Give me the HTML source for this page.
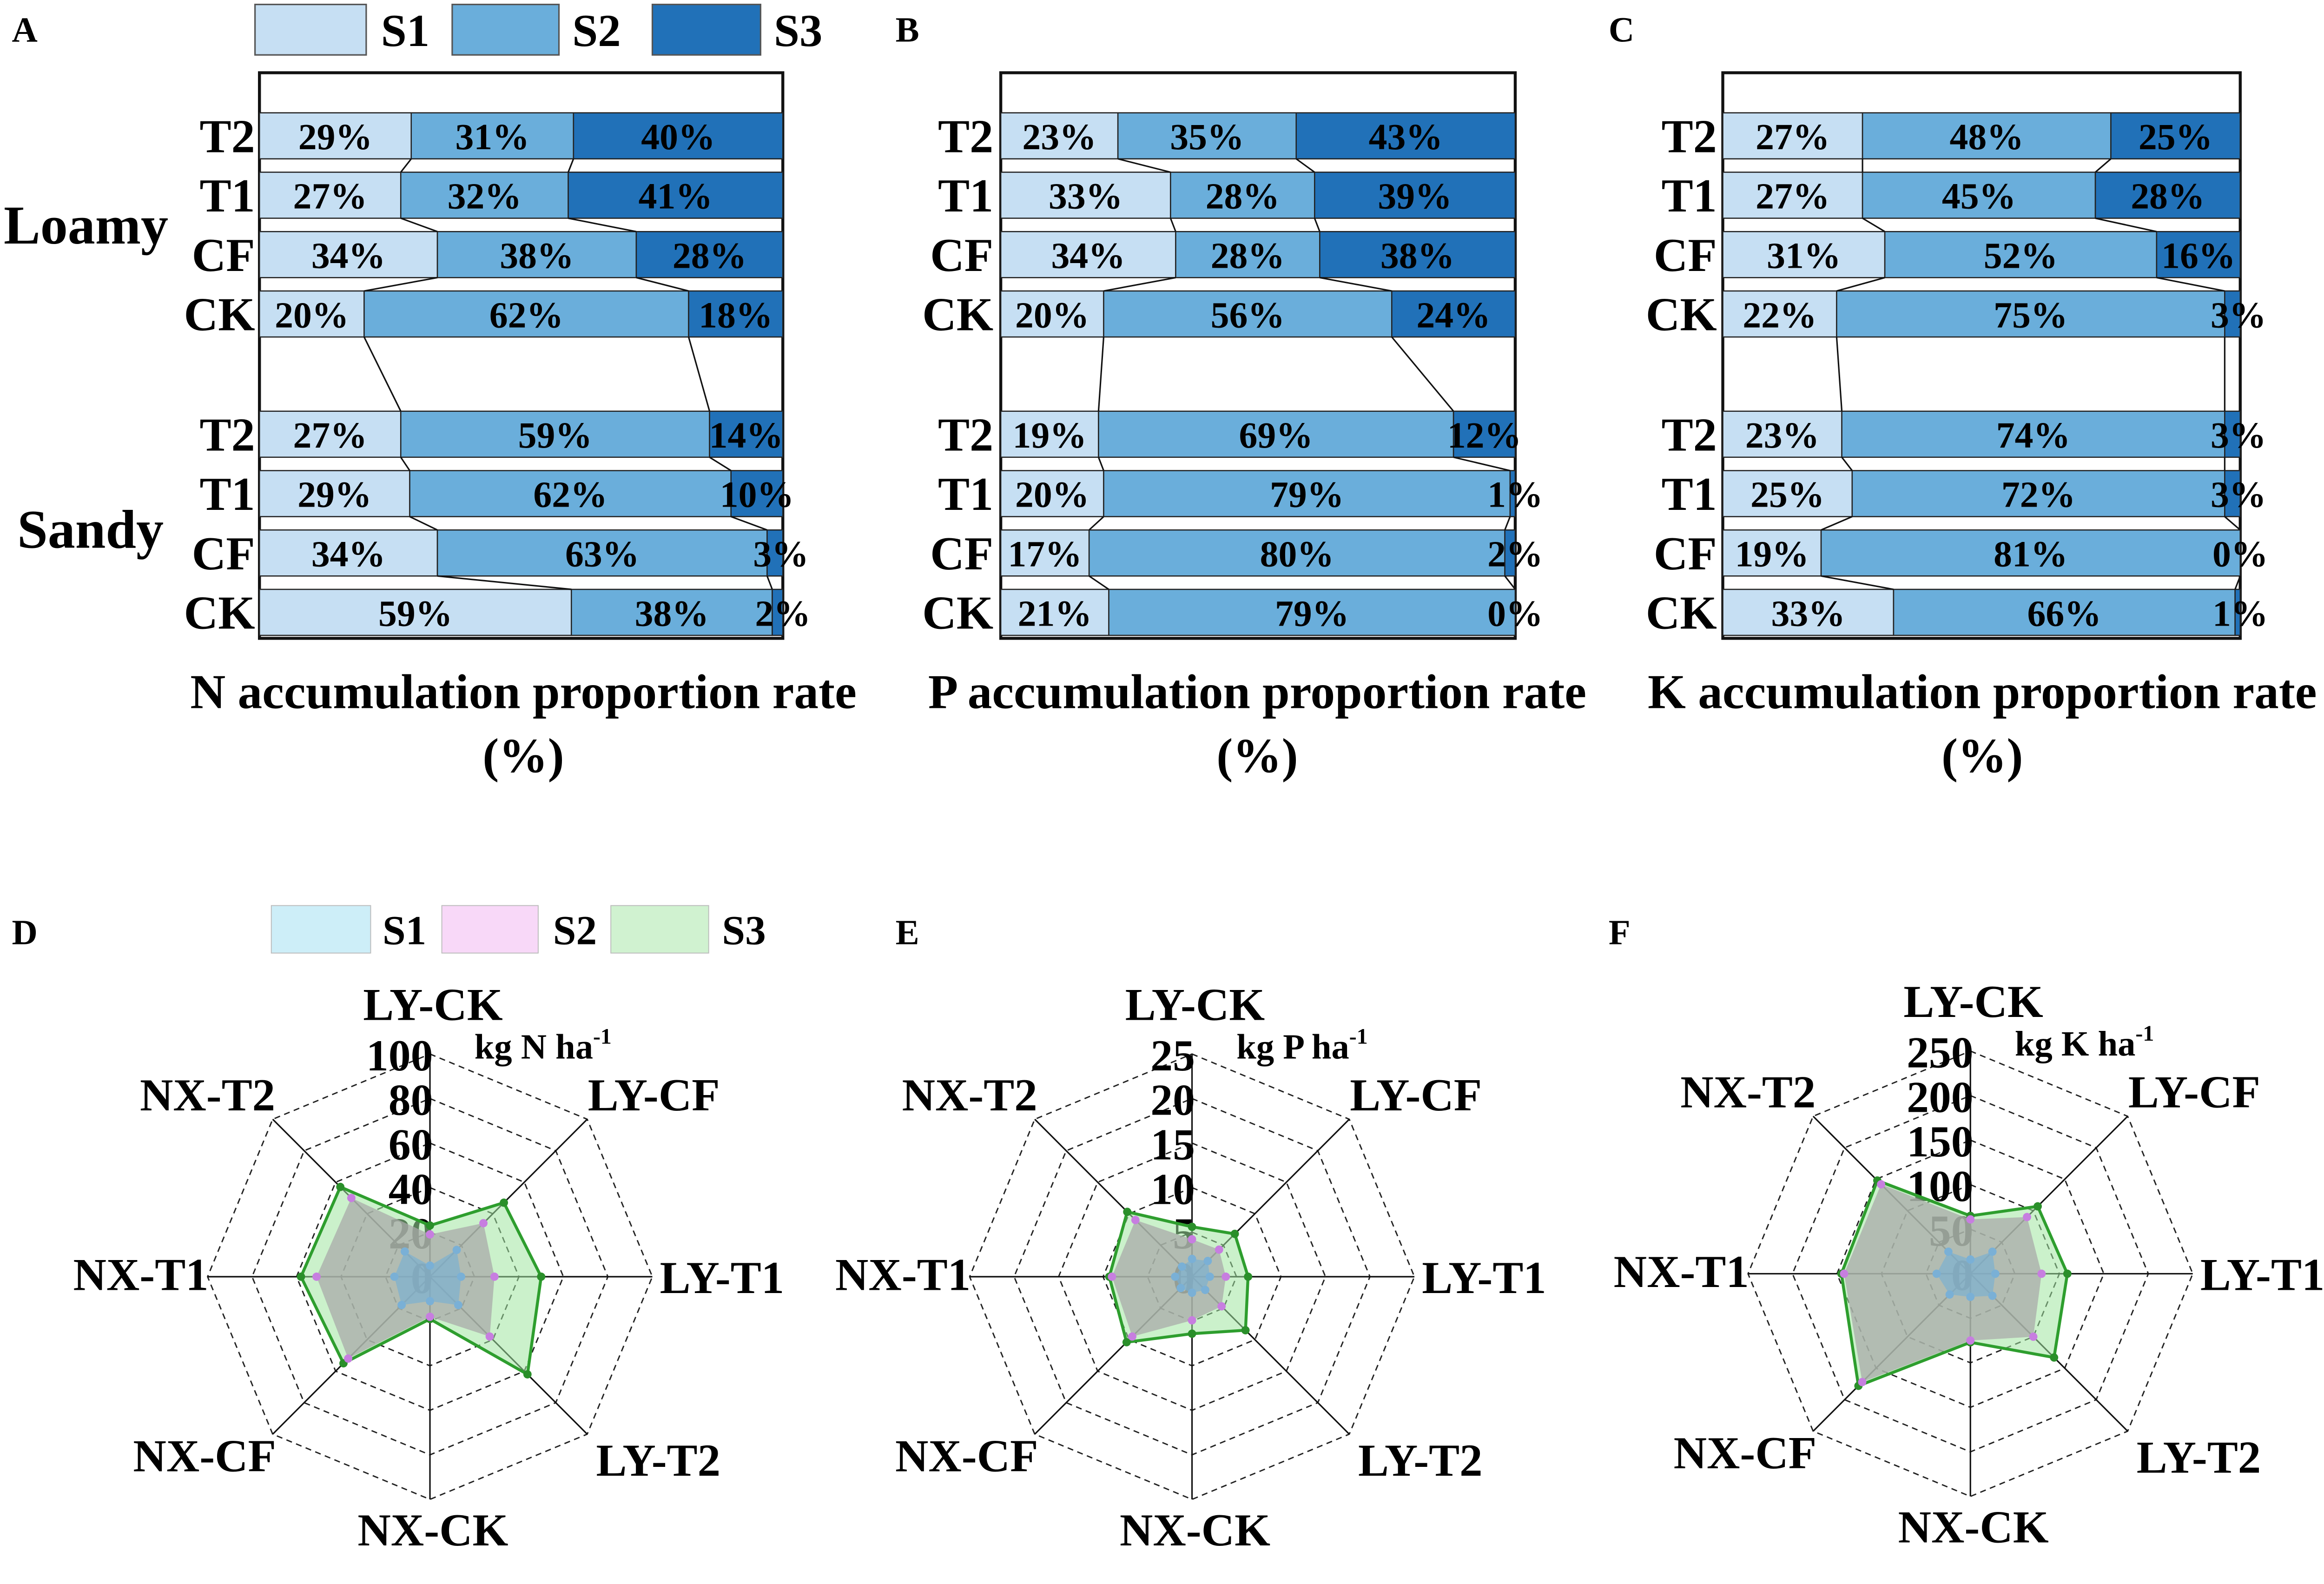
<!DOCTYPE html>
<html><head><meta charset="utf-8"><style>
html,body{margin:0;padding:0;background:#fff;overflow:hidden;}
svg{display:block;}
text{font-family:"Liberation Serif",serif;font-weight:bold;fill:#000;}
</style></head><body>
<svg id="fig" xmlns="http://www.w3.org/2000/svg" width="5126" height="3408" viewBox="0 0 1607 1067" preserveAspectRatio="none">
<rect x="0" y="0" width="1607" height="1067" fill="#fff"/>
<text x="8" y="28" font-size="24" font-family="Liberation Sans">A</text>
<text x="604" y="28" font-size="24" font-family="Liberation Sans">B</text>
<text x="1085" y="28" font-size="24" font-family="Liberation Sans">C</text>
<text x="8" y="636" font-size="24" font-family="Liberation Sans">D</text>
<text x="604" y="636" font-size="24" font-family="Liberation Sans">E</text>
<text x="1085" y="636" font-size="24" font-family="Liberation Sans">F</text>
<g>
<rect x="172" y="3" width="75" height="34" fill="#c6dff3" stroke="#555" stroke-width="1"/>
<text x="257" y="31" font-size="31">S1</text>
<rect x="305" y="3" width="72" height="34" fill="#6aaedb" stroke="#555" stroke-width="1"/>
<text x="386" y="31" font-size="31">S2</text>
<rect x="440" y="3" width="73" height="34" fill="#2171b8" stroke="#555" stroke-width="1"/>
<text x="522" y="31" font-size="31">S3</text>
</g>
<text x="58" y="164" font-size="37" text-anchor="middle">Loamy</text>
<text x="61" y="369" font-size="37" text-anchor="middle">Sandy</text>
<g>
<rect x="183" y="610" width="67" height="32" fill="#cdeef8" stroke="#bbb" stroke-width="0.6"/>
<text x="258" y="636" font-size="28">S1</text>
<rect x="298" y="610" width="65" height="32" fill="#f8d8f8" stroke="#bbb" stroke-width="0.6"/>
<text x="373" y="636" font-size="28">S2</text>
<rect x="412" y="610" width="66" height="32" fill="#d0f2d0" stroke="#bbb" stroke-width="0.6"/>
<text x="487" y="636" font-size="28">S3</text>
</g>
<g id="bars"></g>
<g id="radars"></g>
</svg>
<script>
// ---------- stacked bar data ----------
const rowLabels = ["T2","T1","CF","CK","T2","T1","CF","CK"];
const nS1 = [29,27,34,20,27,29,34,59];
const nS2 = [31,32,38,62,59,62,63,38];
const nS3 = [40,41,28,18,14,10,3,2];
const pS1 = [23,33,34,20,19,20,17,21];
const pS2 = [35,28,28,56,69,79,80,79];
const pS3 = [43,39,38,24,12,1,2,0];
const kS1 = [27,27,31,22,23,25,19,33];
const kS2 = [48,45,52,75,74,72,81,66];
const kS3 = [25,28,16,3,3,3,0,1];
const barTitles = ["N accumulation proportion rate","P accumulation proportion rate","K accumulation proportion rate"];

// ---------- radar data ----------
const radarCats = ["LY-CK","LY-CF","LY-T1","LY-T2","NX-CK","NX-CF","NX-T1","NX-T2"];
const radNS1 = [5,17,14,18,11,18,16,16];
const radNS2 = [19,34,29,38,18,52,51,50];
const radNS3 = [23,47,50,62,19,55,58,57];
const radPS1 = [2,2.5,2,2.1,1.8,1.8,1.9,1.6];
const radPS2 = [4.2,4.3,3.8,4.7,4.9,9.5,9,9];
const radPS3 = [5.6,6.8,6.3,8.5,6.4,10.4,9.3,10.3];
const radKS1 = [16,35,28,35,26,33,38,35];
const radKS2 = [61,90,80,100,75,172,142,142];
const radKS3 = [65,107,109,133,77,178,145,148];
const radNTicks = ["0","20","40","60","80","100"];
const radPTicks = ["0","5","10","15","20","25"];
const radKTicks = ["0","50","100","150","200","250"];

const NS="http://www.w3.org/2000/svg";
function mk(tag, attrs, parent){const e=document.createElementNS(NS,tag);for(const k in attrs)e.setAttribute(k,attrs[k]);parent.appendChild(e);return e;}

const barsG=document.getElementById('bars');
const panels=[
 {x0:175,x1:528,lab:172,cx:353,d:[nS1,nS2,nS3],n:'n'},
 {x0:675,x1:1022,lab:670,cx:848,d:[pS1,pS2,pS3],n:'p'},
 {x0:1162,x1:1511,lab:1158,cx:1337,d:[kS1,kS2,kS3],n:'k'}];
const rowY=[76,116,156,196,277,317,357,397];
const barH=31;
const segCol=["#c6dff3","#6aaedb","#2171b8"];
panels.forEach((p,pi)=>{
  const g=mk('g',{},barsG);
  
  
  const box=mk('rect',{x:p.x0,y:49,width:p.x1-p.x0,height:381,fill:'none',stroke:'#111','stroke-width':2},g);
  
  
  const W=p.x1-p.x0;
  const bounds=[];
  for(let r=0;r<8;r++){
    const vals=[p.d[0][r],p.d[1][r],p.d[2][r]];
    const tot=vals[0]+vals[1]+vals[2];
    let acc=0; const b=[];
    const y=rowY[r];
    vals.forEach((v,si)=>{
      const xa=p.x0+W*acc/tot; acc+=v; const xb=p.x0+W*acc/tot;
      b.push(xb);
      const seg=mk('rect',{x:xa,y:y,width:Math.max(xb-xa,0),height:barH,fill:segCol[si],stroke:'#222','stroke-width':0.8},g);
      
      
      let tx=(xa+xb)/2;
      if(si===2 && xb-xa<30) tx=Math.min(tx+4,p.x1);
      const t=mk('text',{x:tx,y:y+barH/2+9,'font-size':25,'text-anchor':'middle'},g);
      t.textContent=v+'%';
      
      
    });
    bounds.push(b);
    const rl=mk('text',{x:p.lab,y:y+barH/2+11,'font-size':32,'text-anchor':'end'},g);
    rl.textContent=rowLabels[r];
    
    
  }
  for(let r=0;r<7;r++){
    for(let k=0;k<2;k++){
      const ln=mk('line',{x1:bounds[r][k],y1:rowY[r]+barH,x2:bounds[r+1][k],y2:rowY[r+1],stroke:'#111','stroke-width':1},g);
      
      
    }
  }
  const t1=mk('text',{x:p.cx,y:477,'font-size':33,'text-anchor':'middle'},g);
  t1.textContent=barTitles[pi];
  
  
  const t2=mk('text',{x:p.cx,y:520,'font-size':33,'text-anchor':'middle'},g);
  t2.textContent='(%)';
  
  
});

const radG=document.getElementById('radars');
const radars=[
 {cx:290,cy:860,R:150,max:100,ticks:radNTicks,s:[radNS1,radNS2,radNS3],el:'N',n:'n'},
 {cx:804,cy:860,R:150,max:25,ticks:radPTicks,s:[radPS1,radPS2,radPS3],el:'P',n:'p'},
 {cx:1329,cy:858,R:150,max:250,ticks:radKTicks,s:[radKS1,radKS2,radKS3],el:'K',n:'k'}];
const labOff=[[2,-173],[151,-112],[197,11],[154,134],[2,181],[-152,131],[-195,9],[-150,-112]];
radars.forEach(rd=>{
  const g=mk('g',{},radG);
  
  
  const ang=i=>-Math.PI/2+i*Math.PI/4;
  const pt=(i,v)=>{const r=rd.R*v/rd.max;return [rd.cx+r*Math.cos(ang(i)),rd.cy+r*Math.sin(ang(i))];};
  for(let lv=1;lv<=5;lv++){
    const v=rd.max*lv/5; const pts=[];
    for(let i=0;i<8;i++)pts.push(pt(i,v).join(','));
    const pg=mk('polygon',{points:pts.join(' '),fill:'none',stroke:'#222','stroke-width':0.9,'stroke-dasharray':'4,3'},g);
    
    
  }
  for(let i=0;i<8;i++){
    const e=pt(i,rd.max);
    const sp=mk('line',{x1:rd.cx,y1:rd.cy,x2:e[0],y2:e[1],stroke:'#111','stroke-width':1},g);
    
    
    const t=mk('text',{x:rd.cx+labOff[i][0],y:rd.cy+labOff[i][1],'font-size':31,'text-anchor':'middle'},g);
    t.textContent=radarCats[i];
    
    
  }
  rd.ticks.forEach((tk,k)=>{
    const y=rd.cy-rd.R*k/5;
    const t=mk('text',{x:rd.cx+2,y:y+11,'font-size':30,'text-anchor':'end',fill:k===0?'#333':'#111'},g);
    t.textContent=tk;
    
    
  });
  const u=mk('text',{x:rd.cx+30,y:rd.cy-147,'font-size':24},g);
  
  
  u.textContent='kg '+rd.el+' ha';
  const sup=mk('tspan',{'font-size':15,dy:-10},u);
  sup.textContent='-1';
  const styles=[
    {fill:'rgba(120,175,210,0.65)',stroke:'none',dot:'#7ab0d6',name:'s1'},
    {fill:'rgba(170,170,170,0.75)',stroke:'none',dot:'#c77ee0',name:'s2'},
    {fill:'rgba(160,230,160,0.55)',stroke:'#2e9e2e',dot:'#2a8f2a',name:'s3'}];
  [2,1,0].forEach(si=>{
    const st=styles[si]; const vals=rd.s[si];
    const pts=vals.map((v,i)=>pt(i,v).join(','));
    const pg=mk('polygon',{points:pts.join(' '),fill:st.fill,stroke:st.stroke,'stroke-width':2},g);
    
    
    vals.forEach((v,i)=>{
      const q=pt(i,v);
      const c=mk('circle',{cx:q[0],cy:q[1],r:2.8,fill:st.dot},g);
      
      
    });
  });
});
</script>
</body></html>
